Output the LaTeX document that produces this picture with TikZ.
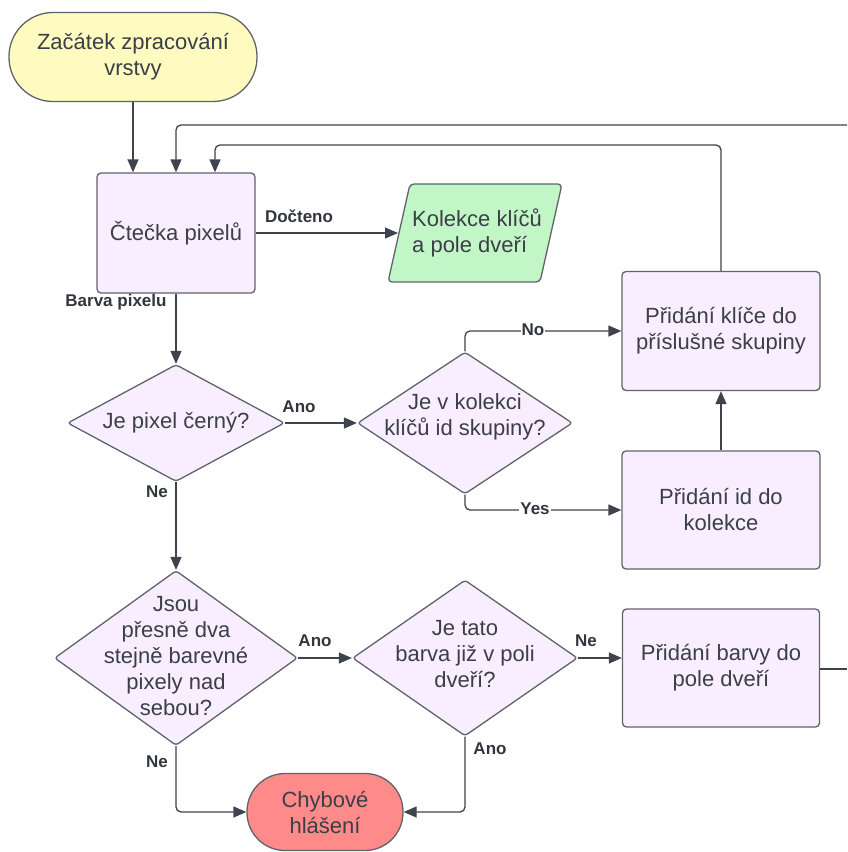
\documentclass[tikz,border=0pt]{standalone}
\usepackage{fontspec}
\setmainfont{Liberation Sans}
\usetikzlibrary{shapes.geometric,arrows.meta}

\definecolor{lav}{RGB}{249,238,255}
\definecolor{keygreen}{RGB}{195,246,199}
\definecolor{startyellow}{RGB}{255,250,192}
\definecolor{errred}{RGB}{255,138,138}
\definecolor{edge}{RGB}{95,99,106}
\definecolor{wire}{RGB}{62,67,77}
\definecolor{ink}{RGB}{58,63,72}

\tikzset{
  base/.style={draw=edge, line width=1.3pt, text=ink, inner sep=0pt,
               align=center, font=\fontsize{22}{26}\selectfont},
  procbox/.style={base, fill=lav, rounded corners=4pt},
  termbox/.style={base},
  decision/.style={draw=edge, line width=1.3pt, fill=lav, shape=diamond,
                   inner sep=0pt, rounded corners=3pt},
  dtext/.style={text=ink, inner sep=0pt, align=center,
                font=\fontsize{22}{26}\selectfont},
  conn/.style={draw=wire, line width=1.3pt, rounded corners=5pt},
  arr/.style={conn, -{Triangle[length=13pt,width=11pt]}},
  lbl/.style={text=ink!85!black, inner sep=1pt,
              font=\fontsize{17}{20}\selectfont\bfseries}
}

\begin{document}
\begin{tikzpicture}[x=1pt,y=-1pt]
\useasboundingbox (0,0) rectangle (847,852);

% terminals
\node[termbox, fill=startyellow, minimum width=248pt, minimum height=89pt,
      rounded corners=44pt] (s) at (133,57) {Začátek zpracování\\vrstvy};
\node[termbox, fill=errred, minimum width=156pt, minimum height=77pt,
      rounded corners=38pt] (err) at (325,812) {Chybové\\hlášení};

% process boxes
\node[procbox, minimum width=158pt, minimum height=120pt] (c) at (176,233) {Čtečka pixelů};
\node[procbox, minimum width=198pt, minimum height=119pt] (pk) at (721,331)
  {Přidání klíče do\\příslušné skupiny};
\node[procbox, minimum width=198pt, minimum height=118pt] (pi) at (721,510)
  {Přidání id do\\kolekce};
\node[procbox, minimum width=197pt, minimum height=118pt] (pb) at (721,668)
  {Přidání barvy do\\pole dveří};

% data output (parallelogram)
\draw[draw=edge, line width=1.3pt, fill=keygreen, rounded corners=4pt]
  (410,184) -- (562,184) -- (540,282) -- (388,282) -- cycle;
\coordinate (kolL) at (398,233);
\node[dtext, align=left] (kol) at (477,233) {Kolekce klíčů\\a pole dveří};

% decisions
\node[decision, minimum width=217pt, minimum height=117pt] (d1) at (176,423) {};
\node[dtext] (d1t) at (176,423) {Je pixel černý?};
\node[decision, minimum width=215pt, minimum height=142pt] (d2) at (465,423) {};
\node[dtext] (d2t) at (465,417) {Je v kolekci\\klíčů id skupiny?};
\node[decision, minimum width=243pt, minimum height=175pt] (d3) at (176,658) {};
\node[dtext] (d3t) at (176,656) {Jsou\\přesně dva\\stejně barevné\\pixely nad\\sebou?};
\node[decision, minimum width=225pt, minimum height=156pt] (d4) at (465,658) {};
\node[dtext] (d4t) at (465,654) {Je tato\\barva již v poli\\dveří?};

% loop-back wires and free ends at the page border
\coordinate (edgeA) at (847,125);
\coordinate (loopB) at (215,145);
\coordinate (edgeB) at (847,669);

% connectors
\draw[arr] (s.south) -- (s.south |- c.north);
\draw[arr] (edgeA) -| (c.north);
\draw[arr] (pk.north) |- (loopB) -- (loopB |- c.north);
\draw[arr] (c.east) -- (kolL);
\draw[arr] (c.south) -- (d1.north);
\draw[arr] (d1.east) -- (d2.west);
\draw[arr] (d2.north) |- (pk.west);
\draw[arr] (d2.south) |- (pi.west);
\draw[arr] (pi.north) -- (pk.south);
\draw[arr] (d1.south) -- (d3.north);
\draw[arr] (d3.east) -- (d4.west);
\draw[arr] (d4.east) -- (d4.east -| pb.west);
\draw[conn] (pb.east |- edgeB) -- (edgeB);
\draw[arr] (d3.south) |- (err.west);
\draw[arr] (d4.south) |- (err.east);

% connector labels
\node[lbl] (lDoc) at (299,216) {Dočteno};
\node[lbl] (lBarva) at (116,302) {Barva pixelu};
\node[lbl] (lAno1) at (299,407) {Ano};
\node[lbl, fill=white] (lNo) at (533,330) {No};
\node[lbl, fill=white] (lYes) at (535,509) {Yes};
\node[lbl] (lNe1) at (157,492) {Ne};
\node[lbl] (lAno2) at (315,641) {Ano};
\node[lbl] (lNe2) at (586,641) {Ne};
\node[lbl] (lNe3) at (157,762) {Ne};
\node[lbl] (lAno3) at (490,749) {Ano};
\end{tikzpicture}
\end{document}
